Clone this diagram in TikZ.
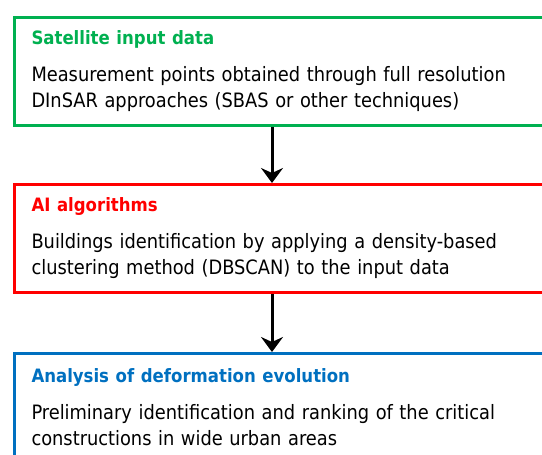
\documentclass[tikz,border=0pt]{standalone}
\usepackage{fontspec}
\setmainfont{DejaVu Sans Condensed}
\usetikzlibrary{arrows.meta}

\definecolor{stagegreen}{HTML}{00B050}
\definecolor{stagered}{HTML}{FF0000}
\definecolor{stageblue}{HTML}{0070C0}

\tikzset{
  stagebox/.style={draw=#1, line width=3pt, rectangle, anchor=north west,
    minimum height=108pt, text width=520pt, inner xsep=17pt, align=left,
    font=\fontsize{19.8}{26}\selectfont},
  flow/.style={line width=3pt, -{Stealth[length=15pt, width=22pt, inset=5pt]}},
}
\newcommand{\stagetitle}[2]{{\fontsize{18.4}{26}\selectfont\bfseries\color{#1}#2}\\[11pt]}

\begin{document}
\begin{tikzpicture}
\useasboundingbox (0,0) rectangle (542pt,-455pt);
\node (sat) [stagebox=stagegreen] at (13pt,-16pt)
  {\stagetitle{stagegreen}{Satellite input data}%
   Measurement points obtained through full resolution\\
   DInSAR approaches (SBAS or other techniques)};
\node (ai) [stagebox=stagered] at (13pt,-183pt)
  {\stagetitle{stagered}{AI algorithms}%
   Buildings identification by applying a density-based\\
   clustering method (DBSCAN) to the input data};
\node (defo) [stagebox=stageblue] at (13pt,-352pt)
  {\stagetitle{stageblue}{Analysis of deformation evolution}%
   Preliminary identification and ranking of the critical\\
   constructions in wide urban areas};
\draw[flow] ([xshift=259pt]sat.south west) -- ([xshift=259pt]ai.north west);
\draw[flow] ([xshift=259pt]ai.south west) -- ([xshift=259pt]defo.north west);
\end{tikzpicture}
\end{document}
